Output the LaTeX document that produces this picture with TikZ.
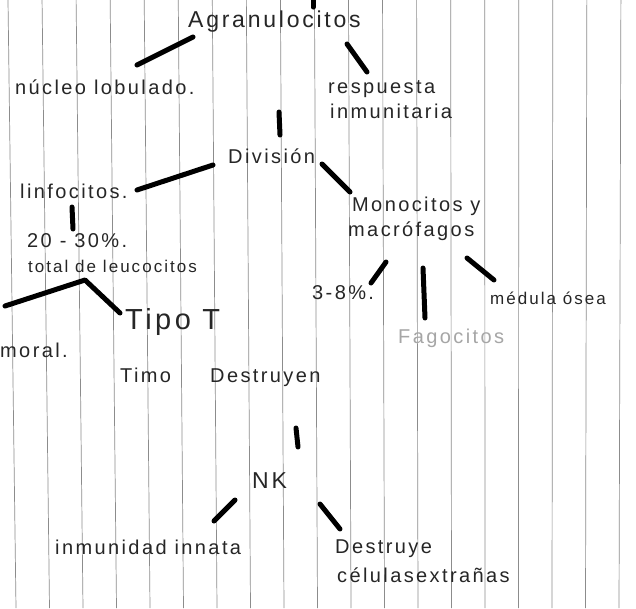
\documentclass[tikz,border=0pt]{standalone}
\usepackage{fontspec}
\setmainfont{Liberation Sans}
\newfontfamily\mano{Liberation Sans}[LetterSpace=12]
\usetikzlibrary{calc}

\tikzset{
  nota/.style={font=\mano\fontsize{20}{22}\selectfont, inner sep=0pt, anchor=west, text=black!85},
  chica/.style={nota, font=\mano\fontsize{17}{19}\selectfont},
  grande/.style={nota, font=\mano\fontsize{23}{25}\selectfont},
  enorme/.style={nota, font=\mano\fontsize{29}{31}\selectfont},
  lapiz/.style={nota, text=black!35},
  trazo/.style={line width=5pt, line cap=round},
  renglon/.style={black!45, line width=0.7pt},
}

\begin{document}
\begin{tikzpicture}[x=1pt,y=-1pt]
\useasboundingbox (0,0) rectangle (636,608);
\fill[white] (0,0) rectangle (636,608);
\foreach \i in {0,...,18}
  \draw[renglon] ({8+34.05*\i},0) -- ({16+33.5*\i},608);

\node[grande] (agran) at (188,22) {Agranulocitos};
\node[nota] (nucleo) at (15,87) {núcleo lobulado.};
\node[nota] (resp) at (328,89) {respuesta};
\node[nota] (inmu) at (330,111) {inmunitaria};
\node[nota] (divi) at (228,156) {División};
\node[nota] (linfo) at (20,191) {linfocitos.};
\node[nota] (porc) at (27,241) {20 - 30\%.};
\node[chica] (total) at (28,266) {total de leucocitos};
\node[nota] (mono) at (352,206) {Monocitos y};
\node[nota] (macro) at (348,231) {macrófagos};
\node[nota] (ocho) at (312,293) {3-8\%.};
\node[lapiz] (fago) at (398,338) {Fagocitos};
\node[chica] (medula) at (490,298) {médula ósea};
\node[enorme] (tipo) at (125,322) {Tipo T};
\node[nota] (humoral) at (0,350) {moral.};
\node[nota] (timo) at (120,375) {Timo};
\node[nota] (destruyen) at (210,378) {Destruyen};
\node[grande] (nk) at (252,481) {NK};
\node[nota] (innata) at (55,547) {inmunidad innata};
\node[nota] (destruye) at (335,549) {Destruye};
\node[nota] (celulas) at (337,575) {célulasextrañas};

\coordinate (arriba) at (313,-3);
\coordinate (izq) at (5,306);
\coordinate (codo) at ($(total.west)+(57,14)$);

\draw[trazo, shorten >=4pt] (arriba) -- (arriba |- agran.north);
\draw[trazo] ($(agran.west)+(5,15)$) -- ($(nucleo.west)+(122,-22)$);
\draw[trazo] ($(agran.west)+(159,22)$) -- ($(resp.west)+(39,-17)$);
\draw[trazo] ($(agran.west)+(91,90)$) -- ($(divi.west)+(52,-21)$);
\draw[trazo] ($(divi.west)+(-15,9)$) -- ($(linfo.west)+(117,-1)$);
\draw[trazo] ($(divi.west)+(94,8)$) -- ($(mono.west)+(-2,-14)$);
\draw[trazo] ($(linfo.west)+(52,16)$) -- ($(porc.west)+(46,-12)$);
\draw[trazo, line join=round] (izq) -- (codo) -- ($(tipo.west)+(-5,-9)$);
\draw[trazo] ($(macro.west)+(38,31)$) -- ($(ocho.west)+(59,-10)$);
\draw[trazo] ($(macro.west)+(75,37)$) -- ($(fago.west)+(27,-20)$);
\draw[trazo] ($(macro.west)+(119,27)$) -- ($(medula.west)+(4,-18)$);
\draw[trazo] ($(destruyen.west)+(86,50)$) -- ($(nk.west)+(46,-34)$);
\draw[trazo] ($(nk.west)+(-17,19)$) -- ($(innata.west)+(159,-26)$);
\draw[trazo] ($(nk.west)+(68,23)$) -- ($(destruye.west)+(5,-20)$);
\end{tikzpicture}
\end{document}
